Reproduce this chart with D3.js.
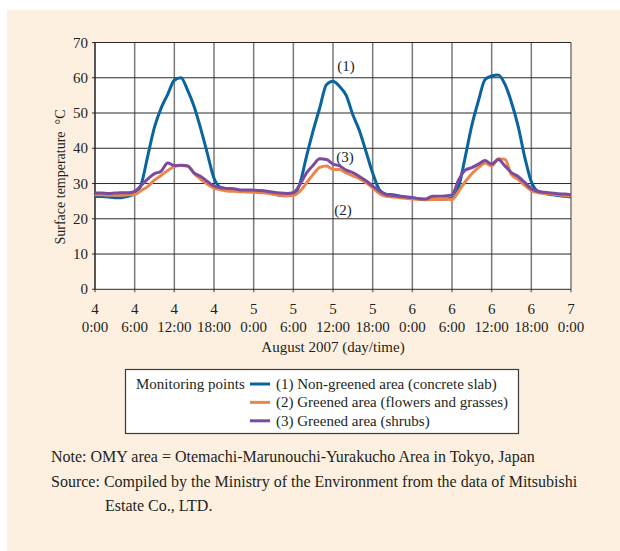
<!DOCTYPE html>
<meta charset="utf-8">
<style>
body { margin: 0; background: #fff; }
svg text { font-family: "Liberation Serif", "Times New Roman", serif; fill: #231f20; }
</style>
<svg width="620" height="551"></svg>
<script src="https://cdn.jsdelivr.net/npm/d3@7"></script>
<script>

// hourly readings, 4 Aug 0:00 .. 7 Aug 0:00 (°C)
var concreteSlab = [
  26.3, 26.3, 26.2, 26.0, 26.0, 26.4, 27.0, 29.8, 38.0, 46.0, 51.4, 55.3,
  59.3, 60.0, 56.5, 51.8, 45.5, 38.5, 31.5, 28.9, 28.5, 28.2, 28.0, 27.9,
  27.8, 27.6, 27.4, 27.0, 26.6, 26.5, 26.9, 30.0, 37.8, 45.0, 51.5, 58.0,
  59.0, 57.5, 55.0, 49.5, 45.0, 39.0, 33.0, 28.3, 27.0, 26.8, 26.5, 26.2,
  26.0, 25.6, 25.5, 25.6, 25.5, 25.6, 25.8, 29.0, 37.5, 46.5, 53.5, 59.5,
  60.5, 60.8, 58.2, 53.0, 46.3, 37.5, 30.5, 27.8, 27.2, 26.9, 26.6, 26.4,
  26.2
];
var flowersGrasses = [
  26.8, 26.8, 26.7, 26.7, 26.7, 26.8, 26.9, 28.0, 29.2, 31.0, 32.3, 33.7,
  34.8, 35.1, 35.0, 32.8, 31.2, 29.8, 28.7, 28.2, 27.9, 27.8, 27.7, 27.6,
  27.5, 27.4, 27.3, 27.0, 26.7, 26.6, 26.6, 27.8, 30.2, 32.6, 34.6, 35.0,
  34.0, 34.0, 33.0, 32.2, 31.4, 30.2, 28.8, 27.2, 26.4, 26.2, 26.0, 25.8,
  25.6, 25.5, 25.4, 25.5, 25.5, 25.6, 25.5, 27.8, 30.5, 32.8, 34.5, 35.8,
  35.0, 37.0, 36.9, 32.5, 31.2, 29.5, 28.0, 27.4, 27.2, 27.0, 26.8, 26.6,
  26.5
];
var shrubs = [
  27.3, 27.3, 27.2, 27.3, 27.4, 27.4, 27.8, 29.5, 31.3, 32.8, 33.5, 35.8,
  35.1, 35.2, 35.0, 33.0, 32.0, 30.6, 29.3, 28.8, 28.6, 28.5, 28.2, 28.2,
  28.1, 28.0, 27.8, 27.5, 27.3, 27.2, 27.4, 29.7, 33.0, 35.2, 37.0, 36.8,
  35.5, 35.0, 33.8, 33.1, 32.0, 30.8, 29.3, 27.9, 26.9, 26.6, 26.4, 26.2,
  26.0, 25.7, 25.6, 26.4, 26.4, 26.5, 26.8, 31.0, 33.8, 34.5, 35.5, 36.5,
  35.5, 36.8, 35.0, 33.1, 32.0, 30.3, 28.5, 27.8, 27.5, 27.3, 27.1, 27.0,
  26.8
];

var dayLabels = ["4", "4", "4", "4", "5", "5", "5", "5", "6", "6", "6", "6", "7"];
var timeLabels = ["0:00", "6:00", "12:00", "18:00", "0:00", "6:00", "12:00", "18:00", "0:00", "6:00", "12:00", "18:00", "0:00"];
var yTicks = [0, 10, 20, 30, 40, 50, 60, 70];

var seriesNames = [
  "(1) Non-greened area (concrete slab)",
  "(2) Greened area (flowers and grasses)",
  "(3) Greened area (shrubs)"
];
var seriesColors = ["#0a64a0", "#ec8549", "#7b4b9d"];

var svg = d3.select("svg");

// cream panel
svg.append("rect")
    .attr("x", 7).attr("y", 10)
    .attr("width", 613).attr("height", 541)
    .attr("fill", "#fdf0e1");

var x = d3.scaleLinear().domain([0, 72]).range([95, 571]);
var y = d3.scaleLinear().domain([0, 70]).range([289.3, 42.5]);

svg.append("rect")
    .attr("x", x(0)).attr("y", y(70))
    .attr("width", x(72) - x(0)).attr("height", y(0) - y(70))
    .attr("fill", "#fff");

var hourTicks = d3.range(0, 73, 6);

// vertical grid
svg.append("g")
  .selectAll("line")
  .data(hourTicks)
  .enter().append("line")
    .attr("x1", function(d) { return x(d); })
    .attr("x2", function(d) { return x(d); })
    .attr("y1", y(70))
    .attr("y2", y(0) + 3)
    .attr("stroke", "#7a7a7a")
    .attr("stroke-width", 1.5);

// horizontal grid
svg.append("g")
  .selectAll("line")
  .data(yTicks)
  .enter().append("line")
    .attr("x1", x(0) - 3)
    .attr("x2", x(72))
    .attr("y1", function(d) { return y(d); })
    .attr("y2", function(d) { return y(d); })
    .attr("stroke", "#2a2a2a")
    .attr("stroke-width", 1);

svg.append("line")
    .attr("x1", x(0)).attr("x2", x(0))
    .attr("y1", y(70)).attr("y2", y(0))
    .attr("stroke", "#2a2a2a").attr("stroke-width", 1.2);

// y tick labels
svg.append("g")
  .selectAll("text")
  .data(yTicks)
  .enter().append("text")
    .attr("x", 88)
    .attr("y", function(d) { return y(d) + 5; })
    .attr("text-anchor", "end")
    .style("font-size", "15px")
    .text(function(d) { return d; });

// x tick labels
var xl = svg.append("g");
xl.selectAll("text.day")
  .data(hourTicks)
  .enter().append("text")
    .attr("class", "day")
    .attr("x", function(d) { return x(d); })
    .attr("y", 314)
    .attr("text-anchor", "middle")
    .style("font-size", "15px")
    .text(function(d, i) { return dayLabels[i]; });
xl.selectAll("text.time")
  .data(hourTicks)
  .enter().append("text")
    .attr("class", "time")
    .attr("x", function(d) { return x(d); })
    .attr("y", 332)
    .attr("text-anchor", "middle")
    .style("font-size", "15px")
    .text(function(d, i) { return timeLabels[i]; });

svg.append("text")
    .attr("x", (x(0) + x(72)) / 2)
    .attr("y", 352)
    .attr("text-anchor", "middle")
    .style("font-size", "15px")
    .text("August 2007 (day/time)");

svg.append("text")
    .attr("transform", "translate(65,177) rotate(-90)")
    .attr("text-anchor", "middle")
    .style("font-size", "14px")
    .style("white-space", "pre")
    .text("Surface temperature  \u00b0C");

// lines
var line = d3.line()
    .x(function(d, i) { return x(i); })
    .y(function(d) { return y(d); })
    .curve(d3.curveMonotoneX);

[concreteSlab, flowersGrasses, shrubs].forEach(function(series, k) {
  svg.append("path")
      .datum(series)
      .attr("fill", "none")
      .attr("stroke", seriesColors[k])
      .attr("stroke-width", 3)
      .attr("stroke-linejoin", "round")
      .attr("d", line);
});

// series callouts
svg.append("text").attr("x", 346).attr("y", 71).attr("text-anchor", "middle").style("font-size", "15px").text("(1)");
svg.append("text").attr("x", 345).attr("y", 162).attr("text-anchor", "middle").style("font-size", "15px").text("(3)");
svg.append("text").attr("x", 343).attr("y", 215).attr("text-anchor", "middle").style("font-size", "15px").text("(2)");

// legend
var legend = svg.append("g");
legend.append("rect")
    .attr("x", 125.5).attr("y", 369.5)
    .attr("width", 393).attr("height", 64)
    .attr("fill", "#fff")
    .attr("stroke", "#3a3a3a")
    .attr("stroke-width", 1.2);
legend.append("text")
    .attr("x", 136).attr("y", 389)
    .style("font-size", "15px")
    .text("Monitoring points");
seriesNames.forEach(function(name, k) {
  var ry = 384 + k * 18.4;
  legend.append("line")
      .attr("x1", 250).attr("x2", 270)
      .attr("y1", ry).attr("y2", ry)
      .attr("stroke", seriesColors[k])
      .attr("stroke-width", 3);
  legend.append("text")
      .attr("x", 276).attr("y", ry + 5)
      .style("font-size", "15px")
      .text(name);
});

// notes
svg.append("text").attr("x", 51).attr("y", 462).style("font-size", "16px")
    .text("Note: OMY area = Otemachi-Marunouchi-Yurakucho Area in Tokyo, Japan");
svg.append("text").attr("x", 51).attr("y", 487).style("font-size", "16px")
    .text("Source: Compiled by the Ministry of the Environment from the data of Mitsubishi");
svg.append("text").attr("x", 105).attr("y", 511).style("font-size", "16px")
    .text("Estate Co., LTD.");

</script>
